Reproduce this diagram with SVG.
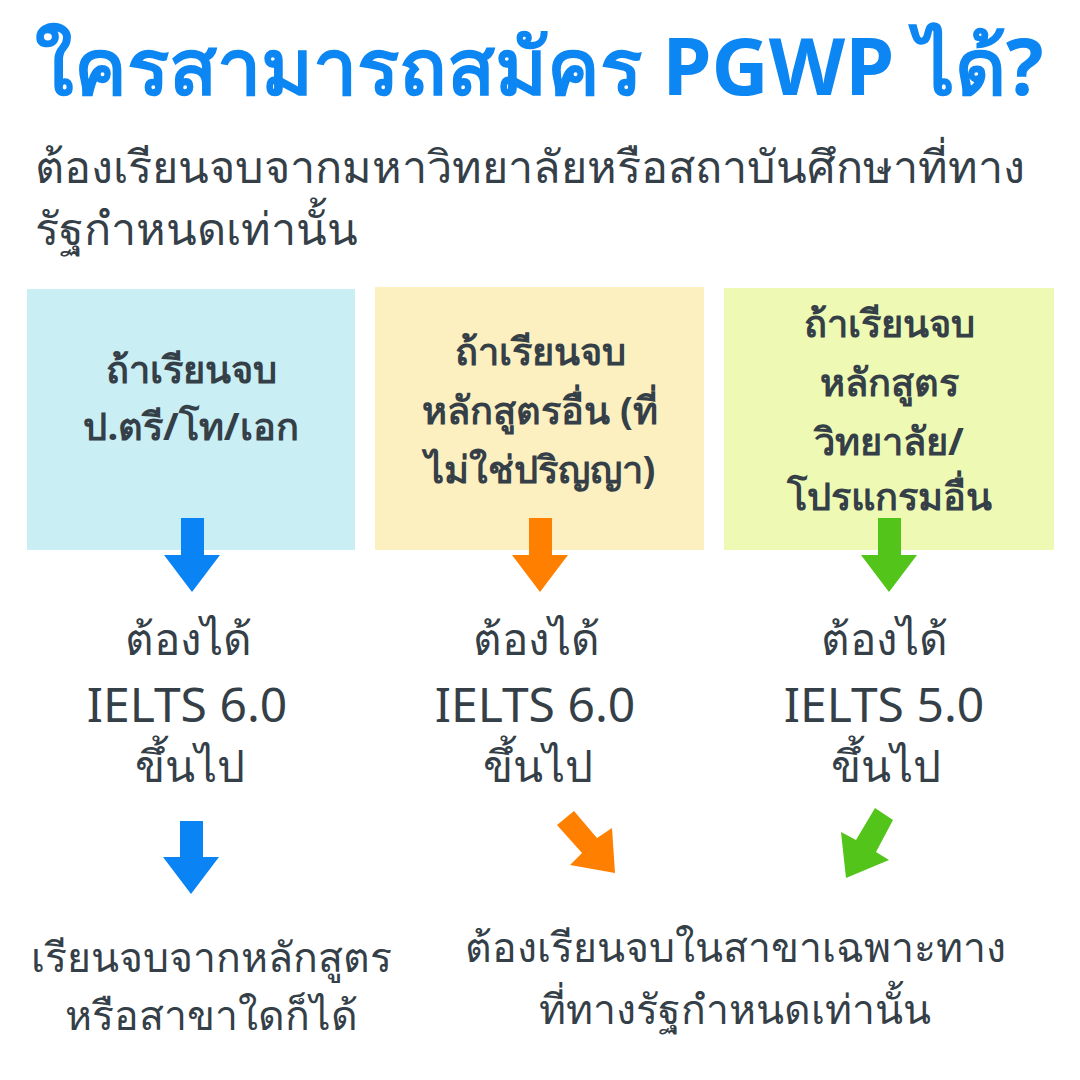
<svg xmlns="http://www.w3.org/2000/svg" width="1080" height="1080" viewBox="0 0 1080 1080">
<style>
.title{font-family:"Noto Sans","DejaVu Sans",sans-serif;font-weight:700;font-size:79px;fill:#0b86f2}
.sub{font-family:"Noto Sans","DejaVu Sans",sans-serif;font-size:45px;fill:#353f48}
.box{font-family:"Noto Sans","DejaVu Sans",sans-serif;font-weight:700;font-size:38px;fill:#353f48;text-anchor:middle}
.mid{font-family:"Noto Sans","DejaVu Sans",sans-serif;font-size:44px;fill:#353f48;text-anchor:middle}
.big{font-family:"Noto Sans","DejaVu Sans",sans-serif;font-size:48px;fill:#353f48;text-anchor:middle}
.bot{font-family:"Noto Sans","DejaVu Sans",sans-serif;font-size:41px;fill:#353f48;text-anchor:middle}
</style>
<rect width="1080" height="1080" fill="#ffffff"/>
<g id="title">
<text class="title" x="35" y="95">ใครสามารถสมัคร PGWP ได้?</text>
<text class="sub" x="35" y="183">ต้องเรียนจบจากมหาวิทยาลัยหรือสถาบันศึกษาที่ทาง</text>
<text class="sub" x="35" y="245">รัฐกำหนดเท่านั้น</text>
</g>
<g id="box1">
<rect x="27" y="289" width="328" height="261" fill="#c9eef4"/>
<text class="box" x="191" y="383">ถ้าเรียนจบ</text>
<text class="box" x="191" y="440">ป.ตรี/โท/เอก</text>
</g>
<g id="box2">
<rect x="375" y="287" width="329" height="263" fill="#fdf0c0"/>
<text class="box" x="540" y="365">ถ้าเรียนจบ</text>
<text class="box" x="540" y="424">หลักสูตรอื่น (ที่</text>
<text class="box" x="540" y="483">ไม่ใช่ปริญญา)</text>
</g>
<g id="box3">
<rect x="724" y="288" width="330" height="262" fill="#eefab4"/>
<text class="box" x="889" y="337">ถ้าเรียนจบ</text>
<text class="box" x="889" y="396">หลักสูตร</text>
<text class="box" x="889" y="455">วิทยาลัย/</text>
<text class="box" x="889" y="510">โปรแกรมอื่น</text>
</g>
<g id="req1">
<text class="mid" x="188" y="655">ต้องได้</text>
<text class="big" x="187" y="722">IELTS 6.0</text>
<text class="mid" x="190" y="782">ขึ้นไป</text>
</g>
<g id="req2">
<text class="mid" x="536" y="655">ต้องได้</text>
<text class="big" x="535" y="722">IELTS 6.0</text>
<text class="mid" x="538" y="782">ขึ้นไป</text>
</g>
<g id="req3">
<text class="mid" x="884" y="655">ต้องได้</text>
<text class="big" x="884" y="722">IELTS 5.0</text>
<text class="mid" x="886" y="782">ขึ้นไป</text>
</g>
<g id="result1">
<text class="bot" x="211" y="972">เรียนจบจากหลักสูตร</text>
<text class="bot" x="211" y="1030">หรือสาขาใดก็ได้</text>
</g>
<g id="result2">
<text class="bot" x="735" y="962">ต้องเรียนจบในสาขาเฉพาะทาง</text>
<text class="bot" x="735" y="1024">ที่ทางรัฐกำหนดเท่านั้น</text>
</g>
<g id="connectors">
<polygon fill="#0a84f5" points="181,518 204,518 204,555 220,555 192,592 164,555 181,555"/>
<polygon fill="#ff8000" points="529,518 552,518 552,555 568,555 540,592 512,555 529,555"/>
<polygon fill="#52c41a" points="878,518 901,518 901,555 917,555 889,592 861,555 878,555"/>
<polygon fill="#0a84f5" points="180,821 203,821 203,857 219,857 191,894 163,857 180,857"/>
<polygon fill="#ff8000" points="574,811 597,838 612,828 615,873 570,865 582,853 557,825"/>
<polygon fill="#52c41a" points="875,808 893,820 876,852 889,860 846,878 841,832 856,840"/>
</g>
</svg>
